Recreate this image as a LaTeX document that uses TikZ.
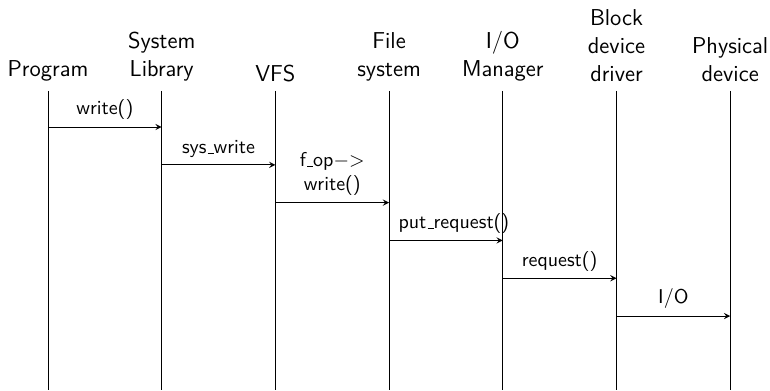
\documentclass[tikz,border=0pt]{standalone}
\usepackage{tikz}
\usetikzlibrary{positioning,arrows}
\tikzset{%
lifehead/.style={font=\sffamily\fontsize{11.5}{14}\selectfont,align=center,anchor=south,inner xsep=0pt,inner ysep=4.5pt},
lifeline/.style={draw,line width=0.4pt},
message/.style={->,>=stealth},
msglabel/.style={font=\sffamily,above,align=center}
}
% short low rule for the underscores in the call names
\newcommand{\usc}{\leavevmode\kern.06em\vbox{\hrule width.3em}}

\begin{document}
\begin{tikzpicture}

    \useasboundingbox (-0.844,-6.86) rectangle (12.70,0);

    % participants
    \node[lifehead] (prog) at (0,-1.6) {Program};
    \node[lifehead] (lib) at (2,-1.6) {System\\Library};
    \node[lifehead] (vfs) at (4,-1.6) {VFS};
    \node[lifehead] (fs) at (6,-1.6) {File\\system};
    \node[lifehead] (iom) at (8,-1.6) {I/O\\Manager};
    \node[lifehead] (bdd) at (10,-1.6) {Block\\device\\driver};
    \node[lifehead] (dev) at (12,-1.6) {Physical\\device};

    \coordinate (bot) at (0,-6.86);
    \coordinate (m1) at (0,-2.234);
    \coordinate (m2) at (0,-2.899);
    \coordinate (m3) at (0,-3.564);
    \coordinate (m4) at (0,-4.229);
    \coordinate (m5) at (0,-4.894);
    \coordinate (m6) at (0,-5.559);

    % lifelines
    \path[lifeline] (prog.south) -- (prog |- bot)
                    (lib.south) -- (lib |- bot)
                    (vfs.south) -- (vfs |- bot)
                    (fs.south) -- (fs |- bot)
                    (iom.south) -- (iom |- bot)
                    (bdd.south) -- (bdd |- bot)
                    (dev.south) -- (dev |- bot);

    % calls
    \path[message] (prog |- m1) edge node[msglabel] {write()} (lib |- m1)
                   (lib |- m2) edge node[msglabel] {sys\usc write} (vfs |- m2)
                   (vfs |- m3) edge node[msglabel] {f\usc op$-$$>$\\write()} (fs |- m3)
                   (fs |- m4) edge node[msglabel,xshift=1.4mm] {put\usc request()} (iom |- m4)
                   (iom |- m5) edge node[msglabel] {request()} (bdd |- m5)
                   (bdd |- m6) edge node[msglabel] {I/O} (dev |- m6);

  \end{tikzpicture}
\end{document}
